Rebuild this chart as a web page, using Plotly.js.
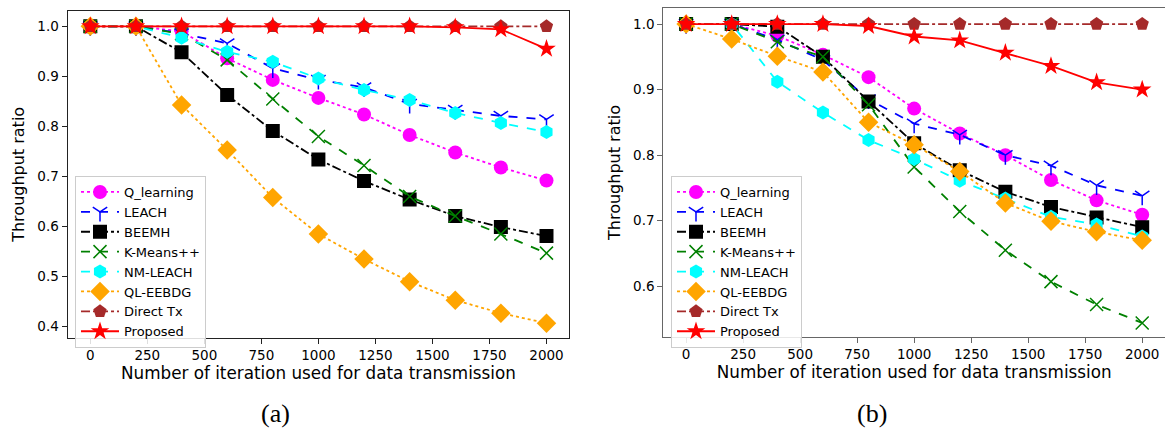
<!DOCTYPE html>
<html>
<head>
<meta charset="utf-8">
<script src="https://cdn.plot.ly/plotly-3.0.1.min.js"></script>
<style>html,body{margin:0;padding:0;background:#fff;}#chart{width:1165px;height:433px;}</style>
</head>
<body>
<div id="chart"></div>
<script>
// ---- data ----
const iterations = [0, 200, 400, 600, 800, 1000, 1200, 1400, 1600, 1800, 2000];
const seriesNames = ["Q_learning", "LEACH", "BEEMH", "K-Means++", "NM-LEACH", "QL-EEBDG", "Direct Tx", "Proposed"];

// (a)
const qLearningA = [1.0, 1.0, 0.990, 0.936, 0.893, 0.857, 0.824, 0.783, 0.748, 0.718, 0.692];
const leachA     = [1.0, 1.0, 0.986, 0.966, 0.916, 0.893, 0.878, 0.845, 0.833, 0.821, 0.814];
const beemhA     = [1.0, 1.0, 0.948, 0.863, 0.791, 0.734, 0.691, 0.654, 0.621, 0.599, 0.581];
const kmeansA    = [1.0, 1.0, 0.985, 0.933, 0.855, 0.780, 0.722, 0.660, 0.621, 0.585, 0.547];
const nmLeachA   = [1.0, 1.0, 0.977, 0.949, 0.929, 0.896, 0.873, 0.853, 0.827, 0.807, 0.789];
const qlEebdgA   = [1.0, 1.0, 0.843, 0.753, 0.658, 0.585, 0.535, 0.490, 0.453, 0.427, 0.407];
const directTxA  = [1.0, 1.0, 1.0, 1.0, 1.0, 1.0, 1.0, 1.0, 1.0, 1.0, 1.0];
const proposedA  = [1.0, 1.0, 1.0, 1.0, 1.0, 1.0, 1.0, 1.0, 0.998, 0.994, 0.955];

// (b)
const qLearningB = [1.0, 1.0, 0.982, 0.953, 0.919, 0.871, 0.833, 0.800, 0.762, 0.731, 0.709];
const leachB     = [1.0, 1.0, 0.976, 0.945, 0.885, 0.848, 0.831, 0.800, 0.784, 0.754, 0.738];
const beemhB     = [1.0, 1.0, 0.996, 0.950, 0.882, 0.818, 0.777, 0.744, 0.721, 0.705, 0.690];
const kmeansB    = [1.0, 1.0, 0.973, 0.950, 0.877, 0.782, 0.714, 0.655, 0.607, 0.572, 0.544];
const nmLeachB   = [1.0, 1.0, 0.912, 0.865, 0.823, 0.794, 0.761, 0.734, 0.706, 0.694, 0.676];
const qlEebdgB   = [1.0, 0.977, 0.951, 0.927, 0.850, 0.816, 0.775, 0.727, 0.699, 0.683, 0.670];
const directTxB  = [1.0, 1.0, 1.0, 1.0, 1.0, 1.0, 1.0, 1.0, 1.0, 1.0, 1.0];
const proposedB  = [1.0, 1.0, 1.0, 1.0, 0.997, 0.981, 0.975, 0.956, 0.936, 0.911, 0.900];

const xTickVals = [0, 250, 500, 750, 1000, 1250, 1500, 1750, 2000];
const captions = ["(a)", "(b)"];

// ---- styles ----
const styles = [
  {color: "#ff00ff", dash: "dot",     symbol: "circle",      size: 14},
  {color: "#0000ff", dash: "dash",    symbol: "y-down-open", size: 12},
  {color: "#000000", dash: "dashdot", symbol: "square",      size: 14},
  {color: "#008000", dash: "dash",    symbol: "x-thin-open", size: 13},
  {color: "#00ffff", dash: "dash",    symbol: "hexagon",     size: 14},
  {color: "#ffa500", dash: "dot",     symbol: "diamond",     size: 15},
  {color: "#a52a2a", dash: "dashdot", symbol: "pentagon",    size: 14},
  {color: "#ff0000", dash: "solid",   symbol: "star",        size: 14}
];

function makeTraces(seriesList, xa, ya, legendName) {
  return seriesList.map((ys, i) => {
    const s = styles[i];
    const open = s.symbol.endsWith("-open");
    return {
      type: "scatter", mode: "lines+markers",
      x: iterations, y: ys, name: seriesNames[i],
      xaxis: xa, yaxis: ya, legend: legendName,
      line: {color: s.color, dash: s.dash, width: 1.8},
      marker: {symbol: s.symbol, size: s.size, color: s.color,
               line: {color: s.color, width: open ? 1.5 : 0}}
    };
  });
}

const traces = [].concat(
  makeTraces([qLearningA, leachA, beemhA, kmeansA, nmLeachA, qlEebdgA, directTxA, proposedA], "x", "y", "legend"),
  makeTraces([qLearningB, leachB, beemhB, kmeansB, nmLeachB, qlEebdgB, directTxB, proposedB], "x2", "y2", "legend2")
);

const W = 1165, H = 433;
const tickFont = {family: "DejaVu Sans", size: 13.5, color: "#000"};
const xTitleFont = {family: "DejaVu Sans", size: 16.8, color: "#000"};
const yTitleFont = {family: "DejaVu Sans", size: 16, color: "#000"};

function xAxis(domain, anchor, lc) {
  return {
    domain: domain, anchor: anchor, range: [-100, 2100],
    tickmode: "array", tickvals: xTickVals, ticktext: xTickVals.map(String),
    ticks: "outside", ticklen: 5, tickwidth: 1, tickcolor: lc,
    showline: true, mirror: true, linecolor: lc, linewidth: 1,
    showgrid: false, zeroline: false, tickfont: tickFont,
    title: {text: "Number of iteration used for data transmission", font: xTitleFont, standoff: 1}
  };
}
function yAxis(domain, anchor, range, lc) {
  return {
    domain: domain, anchor: anchor, range: range,
    dtick: 0.1, tick0: 0, tickformat: ".1f",
    ticks: "outside", ticklen: 5, tickwidth: 1, tickcolor: lc,
    showline: true, mirror: true, linecolor: lc, linewidth: 1,
    showgrid: false, zeroline: false, tickfont: tickFont,
    title: {text: "Throughput ratio", font: yTitleFont, standoff: 8}
  };
}

const legendCommon = {
  xanchor: "left", yanchor: "top",
  bgcolor: "rgba(255,255,255,0.85)", bordercolor: "#cccccc", borderwidth: 1,
  font: {family: "DejaVu Sans", size: 13, color: "#000"},
  tracegroupgap: 0, itemwidth: 38
};

const layout = {
  width: W, height: H,
  margin: {l: 0, r: 0, t: 0, b: 0},
  paper_bgcolor: "#fff", plot_bgcolor: "#fff",
  showlegend: true,
  xaxis: xAxis([67.5 / W, 569.3 / W], "y", "#222"),
  yaxis: yAxis([1 - 337.7 / H, 1 - 11 / H], "x", [0.378, 1.0306], "#222"),
  xaxis2: xAxis([663.3 / W, 1.0], "y2", "#666"),
  yaxis2: yAxis([1 - 336.7 / H, 1 - 8.3 / H], "x2", [0.523, 1.024], "#666"),
  legend: Object.assign({x: 75 / W, y: 1 - 176 / H}, legendCommon),
  legend2: Object.assign({x: 671 / W, y: 1 - 176 / H}, legendCommon),
  annotations: [
    {text: captions[0], xref: "paper", yref: "paper", x: 275 / W, y: 1 - 413 / H,
     xanchor: "center", yanchor: "middle", showarrow: false,
     font: {family: "Liberation Serif", size: 26, color: "#000"}},
    {text: captions[1], xref: "paper", yref: "paper", x: 872 / W, y: 1 - 413 / H,
     xanchor: "center", yanchor: "middle", showarrow: false,
     font: {family: "Liberation Serif", size: 26, color: "#000"}}
  ]
};

Plotly.newPlot("chart", traces, layout, {displayModeBar: false, staticPlot: true});
</script>
</body>
</html>
